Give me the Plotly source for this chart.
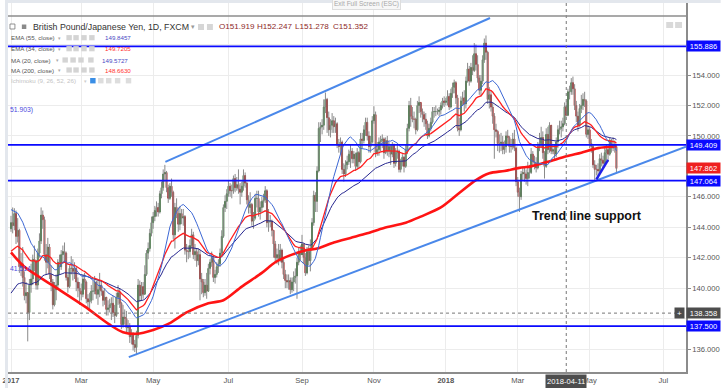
import pandas as pd
import plotly.graph_objects as go

# ------------------------------------------------------------------ data
FIRST_OPEN = 143.90
CLOSE = [
    # Jan 2017
    144.30, 144.10, 144.90, 143.40, 143.80, 141.40, 141.60, 140.70, 139.50, 139.70, 138.40, 140.20, 140.60, 141.90, 141.80, 140.20, 142.30, 143.10, 144.80, 144.50, 142.20, 141.70,
    # Feb 2017
    142.70, 140.90, 140.40, 138.90, 139.90, 140.20, 141.70, 141.40, 142.20, 142.40, 142.30, 140.70, 140.10, 141.30, 141.30, 141.10, 141.30, 140.40, 140.00, 139.80,
    # Mar 2017
    139.60, 140.60, 140.40, 139.30, 139.10, 139.20, 139.80, 139.80, 140.40, 139.60, 139.90, 140.20, 139.80, 139.20, 139.40, 138.60, 138.70, 138.90, 139.00, 138.40, 138.20, 139.40, 139.70,
    # Apr 2017
    139.00, 137.60, 138.10, 138.00, 137.40, 137.50, 136.80, 136.90, 136.30, 136.10, 136.90, 140.20, 139.50, 140.10, 139.60, 140.90, 142.30, 142.60, 143.60, 144.30,
    # May 2017
    144.70, 145.10, 145.30, 145.00, 146.20, 146.60, 147.50, 147.60, 146.60, 145.90, 146.70, 146.30, 143.50, 145.30, 144.90, 144.20, 144.90, 144.60, 144.70, 142.50, 142.40, 142.40, 142.80,
    # Jun 2017
    143.50, 142.20, 142.40, 141.80, 142.20, 140.60, 140.40, 139.70, 140.20, 139.80, 141.30, 141.70, 142.00, 140.70, 140.90, 141.40, 141.60, 142.30, 143.40, 145.30, 145.70, 146.20,
    # Jul 2017
    146.70, 146.40, 146.40, 147.20, 146.60, 146.80, 146.50, 146.30, 146.70, 147.40, 146.90, 145.80, 145.30, 145.50, 144.40, 144.60, 145.90, 145.90, 145.00, 145.30, 145.70,
    # Aug 2017
    145.80, 146.40, 144.30, 144.40, 144.40, 143.80, 142.90, 142.00, 142.20, 141.90, 142.50, 141.70, 140.90, 140.50, 140.40, 140.50, 139.90, 140.40, 140.70, 140.80, 141.70, 142.40, 142.20,
    # Sep 2017
    142.90, 142.00, 141.00, 142.40, 141.80, 142.60, 144.30, 146.10, 145.70, 147.70, 150.50, 150.60, 150.70, 151.90, 152.40, 151.20, 150.40, 150.70, 151.00, 150.60, 150.80,
    # Oct 2017
    149.40, 149.30, 149.60, 147.80, 147.50, 148.10, 148.30, 148.80, 149.00, 148.50, 148.80, 148.00, 148.90, 148.30, 149.80, 149.70, 150.40, 150.90, 150.00, 149.30, 149.60, 151.00,
    # Nov 2017
    151.40, 148.90, 149.10, 149.60, 149.70, 149.80, 148.90, 149.70, 149.00, 149.30, 148.80, 149.40, 148.20, 148.90, 149.00, 147.80, 148.30, 148.60, 148.00, 149.10, 150.50, 152.00,
    # Dec 2017
    151.30, 151.10, 151.10, 150.40, 152.00, 152.20, 151.60, 151.40, 151.10, 150.80, 150.00, 150.50, 150.90, 151.60, 151.60, 151.60, 151.60, 151.70, 152.00, 152.30, 152.20,
    # Jan 2018
    152.30, 152.60, 151.90, 152.80, 153.20, 153.50, 152.50, 150.50, 150.40, 152.30, 152.50, 152.10, 153.60, 154.40, 153.60, 154.50, 154.30, 155.40, 154.70, 153.80, 153.00, 153.60, 155.00,
    # Feb 2018
    156.10, 155.50, 152.40, 152.70, 151.90, 151.30, 150.40, 150.30, 149.50, 149.50, 149.60, 149.10, 149.30, 150.00, 149.90, 149.30, 149.30, 149.80, 149.20, 147.00,
    # Mar 2018
    146.30, 146.00, 147.50, 147.60, 147.50, 147.20, 147.60, 147.60, 148.80, 148.30, 148.20, 147.90, 149.30, 149.50, 149.90, 148.90, 148.00, 150.10, 149.10, 150.70, 149.00, 149.10,
    # Apr 2018
    148.80, 149.60, 150.40, 150.50, 150.60, 150.80, 151.919, 151.352, 152.90, 152.90, 153.50, 153.10, 152.00, 151.30, 150.70, 151.80, 152.00, 152.40, 152.30, 150.10, 150.40,
    # May 2018
    149.50, 149.30, 148.10, 147.80, 147.80, 147.70, 148.50, 148.40, 148.20, 148.90, 149.10, 148.80, 149.70, 149.20, 149.40, 149.30, 147.862,
]
HIGH = [
    144.75, 145.30, 145.25, 145.10, 144.60, 143.90, 142.30, 142.70, 141.10, 140.40, 139.60, 140.60, 141.60, 142.20, 142.80, 141.80, 142.60, 143.60, 145.30, 145.10, 144.70, 142.90,
    143.30, 142.90, 141.50, 140.60, 140.40, 140.90, 141.90, 142.20, 142.50, 142.80, 143.00, 142.40, 140.90, 141.50, 142.10, 141.90, 141.70, 141.40, 140.70, 140.40,
    140.30, 140.90, 141.00, 140.50, 139.60, 139.70, 140.20, 140.50, 140.80, 140.50, 140.60, 141.00, 140.50, 139.90, 140.00, 139.40, 139.20, 139.30, 139.40, 139.50, 138.90, 139.70, 140.20,
    140.00, 139.10, 138.90, 138.60, 138.50, 137.90, 137.70, 137.30, 137.10, 136.60, 137.20, 140.60, 140.50, 140.40, 140.40, 141.50, 142.50, 143.00, 143.90, 144.70,
    145.00, 145.40, 145.70, 145.60, 146.40, 147.00, 147.80, 148.10, 147.70, 146.80, 146.90, 147.20, 146.40, 145.60, 145.90, 145.30, 145.40, 145.20, 145.20, 144.80, 142.90, 142.80, 143.20,
    143.90, 143.70, 142.90, 142.60, 142.60, 142.50, 141.00, 140.60, 140.60, 141.00, 141.60, 141.90, 142.40, 142.10, 141.20, 141.70, 141.90, 142.60, 143.80, 145.50, 146.10, 146.50,
    147.10, 146.90, 146.80, 147.40, 147.50, 147.30, 147.80, 146.90, 147.00, 147.80, 147.60, 147.00, 146.10, 146.30, 145.60, 145.00, 146.20, 146.40, 146.40, 145.70, 146.00,
    146.20, 146.70, 146.50, 145.20, 144.80, 144.50, 143.80, 143.10, 142.60, 142.90, 142.90, 142.60, 141.90, 141.20, 140.90, 140.90, 140.70, 140.70, 141.10, 141.30, 142.00, 142.70, 142.80,
    143.50, 142.70, 142.30, 142.70, 142.80, 143.20, 144.60, 146.40, 146.30, 148.00, 150.90, 150.90, 151.10, 152.40, 152.85, 152.50, 151.60, 151.10, 151.50, 151.30, 151.20,
    150.90, 149.80, 149.90, 149.70, 148.20, 148.40, 148.70, 149.10, 149.40, 149.20, 149.00, 148.90, 149.20, 149.00, 150.20, 150.20, 150.70, 151.20, 151.20, 150.30, 150.00, 151.30,
    151.95, 151.60, 149.60, 149.90, 150.00, 150.10, 149.90, 149.90, 150.00, 149.60, 149.40, 149.60, 149.50, 149.20, 149.40, 149.10, 148.50, 148.80, 148.70, 149.40, 150.80, 152.30,
    152.50, 151.90, 151.60, 151.20, 152.30, 152.60, 152.20, 151.80, 151.60, 151.50, 151.00, 150.80, 151.20, 151.90, 151.90, 152.00, 151.80, 151.90, 152.20, 152.50, 152.60,
    152.50, 153.00, 152.80, 153.10, 153.50, 153.70, 153.60, 152.70, 151.20, 152.60, 152.90, 153.00, 153.90, 154.80, 154.60, 154.80, 155.30, 156.10, 156.00, 155.30, 154.00, 154.00, 155.30,
    156.40, 156.60, 155.60, 153.20, 153.00, 152.20, 151.50, 150.80, 150.40, 150.10, 150.20, 150.00, 149.70, 150.30, 150.40, 150.00, 149.80, 150.20, 150.40, 149.30,
    147.30, 146.60, 147.70, 148.00, 148.00, 147.80, 148.30, 148.10, 149.20, 149.00, 148.70, 148.60, 149.60, 150.20, 150.60, 150.30, 149.00, 150.50, 150.60, 150.90, 150.70, 149.40,
    149.40, 149.90, 150.70, 151.00, 151.00, 151.20, 152.20, 152.247, 153.10, 153.30, 153.80, 153.90, 153.40, 152.30, 151.60, 152.10, 152.70, 152.80, 152.90, 152.40, 150.70,
    150.60, 149.80, 149.40, 148.40, 148.10, 148.20, 148.80, 148.90, 148.70, 149.20, 149.40, 149.30, 149.90, 149.80, 149.90, 149.70, 149.40,
]
LOW = [
    143.70, 143.60, 143.80, 142.90, 143.00, 141.00, 140.80, 140.10, 139.20, 139.00, 136.50, 137.90, 139.70, 140.20, 141.10, 139.90, 139.90, 142.00, 142.90, 143.90, 141.80, 140.90,
    141.30, 140.60, 139.80, 138.60, 138.80, 139.20, 139.90, 140.90, 141.20, 141.60, 141.70, 140.50, 139.70, 140.00, 140.90, 140.50, 140.60, 139.80, 139.40, 138.90,
    139.20, 139.40, 139.90, 139.00, 138.70, 138.60, 139.00, 139.20, 139.60, 139.30, 138.90, 139.40, 139.50, 138.80, 138.90, 138.20, 138.20, 138.40, 137.90, 138.10, 137.70, 138.10, 138.90,
    138.70, 137.30, 137.40, 137.60, 137.00, 137.00, 136.40, 136.30, 135.90, 135.80, 135.60, 136.70, 139.10, 139.20, 139.30, 140.20, 140.80, 141.90, 142.40, 143.40,
    143.90, 144.40, 144.70, 144.70, 144.90, 145.90, 146.40, 147.00, 146.30, 145.60, 145.80, 146.00, 143.20, 142.60, 144.60, 143.70, 143.80, 144.20, 144.10, 142.20, 141.70, 141.90, 142.00,
    142.60, 141.90, 141.80, 141.40, 141.50, 139.20, 139.60, 139.40, 139.50, 139.30, 139.90, 140.90, 141.40, 140.40, 140.30, 140.70, 141.00, 141.40, 142.10, 143.30, 145.00, 145.20,
    146.00, 146.00, 145.90, 146.20, 146.30, 146.40, 146.20, 145.50, 146.00, 146.40, 146.60, 145.50, 144.90, 144.90, 144.10, 143.90, 144.50, 145.30, 144.70, 144.50, 145.00,
    145.30, 145.60, 144.00, 143.70, 144.00, 143.40, 142.00, 141.70, 141.60, 141.50, 141.70, 141.30, 140.60, 140.00, 140.00, 139.90, 139.60, 139.70, 139.80, 140.30, 139.30, 141.50, 141.80,
    142.20, 141.60, 140.80, 140.90, 141.50, 141.10, 142.80, 144.10, 145.00, 145.00, 147.60, 149.60, 150.10, 150.40, 151.50, 150.20, 150.00, 149.90, 150.20, 150.20, 150.20,
    149.20, 148.90, 148.80, 147.50, 147.00, 147.30, 147.80, 148.10, 147.90, 148.20, 148.20, 147.70, 147.80, 147.90, 148.20, 149.20, 149.50, 150.00, 149.70, 148.90, 148.90, 149.50,
    150.80, 148.60, 148.70, 148.70, 149.00, 149.20, 148.50, 148.80, 148.70, 148.60, 148.10, 148.60, 147.90, 148.00, 148.50, 147.60, 147.60, 148.00, 147.60, 147.90, 148.80, 150.30,
    150.60, 150.90, 150.50, 150.10, 150.30, 151.50, 151.20, 150.90, 150.60, 150.40, 149.80, 149.90, 150.30, 150.80, 151.20, 151.30, 151.40, 151.30, 151.40, 151.80, 151.90,
    152.00, 152.00, 151.70, 151.80, 152.50, 152.80, 152.10, 150.30, 150.00, 150.30, 152.00, 151.60, 151.80, 153.50, 153.30, 153.50, 154.00, 154.20, 154.30, 153.50, 152.70, 152.60, 153.40,
    154.80, 155.00, 152.10, 151.80, 151.60, 150.80, 148.50, 149.90, 149.00, 148.90, 149.00, 148.80, 148.80, 148.90, 149.40, 148.90, 148.90, 149.10, 149.00, 146.70,
    146.00, 145.00, 145.80, 147.10, 147.00, 146.80, 146.70, 147.20, 147.50, 148.00, 147.80, 147.60, 147.80, 149.00, 149.20, 148.50, 147.20, 147.90, 148.80, 148.90, 148.80, 148.80,
    148.40, 148.60, 149.20, 150.10, 149.90, 150.30, 150.70, 151.278, 151.30, 152.40, 152.70, 152.70, 151.70, 150.90, 150.30, 150.60, 151.50, 151.70, 151.90, 149.90, 149.80,
    149.20, 148.90, 147.90, 147.10, 147.40, 147.20, 147.50, 148.00, 147.90, 148.10, 148.40, 148.30, 148.70, 148.90, 149.00, 148.90, 147.60,
]

# 200-day MA (thick red line)
MA200_DATES = ["2017-01-02", "2017-01-12", "2017-02-07", "2017-03-03", "2017-03-24", "2017-04-05", "2017-04-17",
               "2017-05-01", "2017-05-15", "2017-05-29", "2017-06-15", "2017-06-28", "2017-07-13", "2017-07-31",
               "2017-08-10", "2017-08-24", "2017-09-06", "2017-09-14", "2017-09-28", "2017-10-12", "2017-10-26",
               "2017-11-09", "2017-11-28", "2017-12-11", "2017-12-27", "2018-01-11", "2018-01-25", "2018-02-06",
               "2018-02-19", "2018-03-02", "2018-03-13", "2018-03-27", "2018-04-11", "2018-04-24", "2018-05-08",
               "2018-05-23"]
MA200_VALUES = [142.35, 141.4, 140.1, 138.8, 137.6, 137.1, 137.0, 137.25, 137.7, 138.4, 139.0, 139.2, 140.1,
                141.0, 141.7, 142.2, 142.5, 142.6, 143.0, 143.3, 143.6, 143.95, 144.3, 144.7, 145.3, 146.25,
                147.1, 147.55, 147.7, 147.9, 148.0, 148.3, 148.663, 148.9, 149.2, 149.3]

# indicator starting values (values at first bar)
EMA55_SEED, EMA34_SEED, MA20_SEED = 139.5, 142.3, 145.2

# drawings
LEVELS = [155.886, 149.409, 147.064, 137.500]
LAST_PRICE = 147.862
CROSS_DATE, CROSS_PRICE = "2018-04-11", 138.358
TREND_UP_X, TREND_UP_Y = ["2017-05-10 07:00", "2018-02-06 10:00"], [148.29, 157.75]
TREND_LOW_X, TREND_LOW_Y = ["2017-04-10 10:00", "2018-07-19 14:24"], [135.47, 149.30]
SHORT_X, SHORT_Y = ["2018-05-07", "2018-05-16"], [147.15, 148.42]

TICK_DATES = ["2017-01-02", "2017-03-01", "2017-05-01", "2017-07-03", "2017-09-01", "2017-11-01",
              "2018-01-01", "2018-03-01", "2018-05-01", "2018-07-02"]
TICK_TEXT = ["<b>2017</b>", "Mar", "May", "Jul", "Sep", "Nov", "<b>2018</b>", "Mar", "May", "Jul"]
Y_TICKS = [136, 140, 142, 144, 146, 150, 152, 154]       # labelled price ticks
Y_HIDDEN_GRID = [138, 148, 156]                           # grid rows whose labels sit under price boxes

# ------------------------------------------------------------------ build
dates = pd.bdate_range("2017-01-02", "2018-05-23")
if not (len(dates) == len(CLOSE) == len(HIGH) == len(LOW)):
    raise SystemExit(f"length mismatch {len(dates)} {len(CLOSE)} {len(HIGH)} {len(LOW)}")

OPEN = [FIRST_OPEN] + CLOSE[:-1]
hi = [max(h, o, c) for h, o, c in zip(HIGH, OPEN, CLOSE)]
lo = [min(l, o, c) for l, o, c in zip(LOW, OPEN, CLOSE)]
body_hi = [max(o, c) for o, c in zip(OPEN, CLOSE)]
body_lo = [min(o, c) for o, c in zip(OPEN, CLOSE)]


def ema(vals, n, seed):
    a, e, out = 2.0 / (n + 1), seed, []
    for v in vals:
        e = a * v + (1 - a) * e
        out.append(e)
    return out


def sma(vals, n, seed):
    out = []
    for i in range(len(vals)):
        win = vals[max(0, i - n + 1): i + 1]
        pad = n - len(win)
        out.append((sum(win) + pad * seed) / n)
    return out


ema55 = ema(CLOSE, 55, EMA55_SEED)
ema34 = ema(CLOSE, 34, EMA34_SEED)
ma20 = sma(CLOSE, 20, MA20_SEED)

FONT = "Liberation Sans, Arial, sans-serif"
W, H = 723, 388
ML, MR, MT, MB = 3, 35, 3, 16
PW, PH = W - ML - MR, H - MT - MB


def px(x):
    return (x - ML) / PW


def py(y):
    return 1 - (y - MT) / PH


def price_at(y):
    return 136 + (349 - y) / 15.22


UP_F, UP_L = "#2a7a2a", "#2c6e2c"
DN_F, DN_L = "#c41616", "#aa1414"
WICK = "#8a8a8a"
MA20_C, EMA55_C, EMA34_C, MA200_C = "#3c67d4", "#26268f", "#ff2020", "#ff1414"
TREND_C, LEVEL_C = "#4a88ea", "#0a0aff"

fig = go.Figure()

wx, wy = [], []
for d, l, h in zip(dates, lo, hi):
    wx += [d, d, None]
    wy += [l, h, None]
fig.add_trace(go.Scatter(x=wx, y=wy, mode="lines", line=dict(color=WICK, width=1),
                         hoverinfo="skip", showlegend=False))
fig.add_trace(go.Candlestick(x=dates, open=OPEN, high=body_hi, low=body_lo, close=CLOSE,
                             increasing=dict(line=dict(color=UP_L, width=1), fillcolor=UP_F),
                             decreasing=dict(line=dict(color=DN_L, width=1), fillcolor=DN_F),
                             whiskerwidth=0, showlegend=False))
fig.add_trace(go.Scatter(x=MA200_DATES, y=MA200_VALUES, mode="lines",
                         line=dict(color=MA200_C, width=2.6, shape="spline", smoothing=0.8), showlegend=False))
fig.add_trace(go.Scatter(x=dates, y=ema55, mode="lines", line=dict(color=EMA55_C, width=1), showlegend=False))
fig.add_trace(go.Scatter(x=dates, y=ema34, mode="lines", line=dict(color=EMA34_C, width=1.3), showlegend=False))
fig.add_trace(go.Scatter(x=dates, y=ma20, mode="lines", line=dict(color=MA20_C, width=1), showlegend=False))
fig.add_trace(go.Scatter(x=TREND_UP_X, y=TREND_UP_Y, mode="lines", line=dict(color=TREND_C, width=2), showlegend=False))
fig.add_trace(go.Scatter(x=TREND_LOW_X, y=TREND_LOW_Y, mode="lines", line=dict(color=TREND_C, width=2), showlegend=False))
fig.add_trace(go.Scatter(x=SHORT_X, y=SHORT_Y, mode="lines", line=dict(color="#1f1fe8", width=2.5), showlegend=False))

shapes = []
for g in Y_HIDDEN_GRID:
    shapes.append(dict(type="line", xref="paper", yref="y", x0=0, x1=1, y0=g, y1=g,
                       line=dict(color="#ececec", width=1), layer="below"))
for lv in LEVELS:
    shapes.append(dict(type="line", xref="paper", yref="y", x0=0, x1=1, y0=lv, y1=lv,
                       line=dict(color=LEVEL_C, width=1.6), layer="above"))
shapes.append(dict(type="line", xref="x", yref="paper", x0=CROSS_DATE, x1=CROSS_DATE, y0=0, y1=1,
                   line=dict(color="#777777", width=1, dash="3px,3px"), layer="above"))
shapes.append(dict(type="line", xref="paper", yref="y", x0=0, x1=1, y0=CROSS_PRICE, y1=CROSS_PRICE,
                   line=dict(color="#777777", width=1, dash="3px,3px"), layer="above"))
# chrome
shapes.append(dict(type="line", xref="paper", yref="paper", x0=0, x1=1, y0=py(16), y1=py(16),
                   line=dict(color="#8c8c8c", width=1.6), layer="above"))


def rect(x0, y0, x1, y1, fill, lw=0, lc=None):
    return dict(type="rect", xref="paper", yref="paper", x0=px(x0), x1=px(x1), y0=py(y1), y1=py(y0),
                fillcolor=fill, line=dict(width=lw, color=lc or fill), layer="above")


shapes.append(rect(0, 0, 723, 3, "#e3e7ed"))
shapes.append(rect(0, 0, 3, 388, "#e3e7ed"))
# legend icons
shapes.append(rect(5, 24, 10, 29, "white", 0.8, "#777777"))
shapes.append(rect(17, 24.5, 21.5, 29, "#8a8a8a"))
shapes.append(rect(195, 24, 201, 30, "#d6d6d6"))
shapes.append(rect(204, 24, 210, 30, "#d6d6d6"))
for yy, xs in [(37.7, [62, 69, 77, 85]), (48.7, [62, 69, 77, 85]), (60, [58, 66, 74, 84]), (70, [62, 69, 77, 85])]:
    for xx in xs:
        shapes.append(rect(xx, yy - 2.6, xx + 5.5, yy + 2.6, "#d4d4d4"))
shapes.append(rect(86, 78, 91.5, 83.4, "#3a8ee6"))
for xx in [94, 102, 111, 122]:
    shapes.append(rect(xx, 78, xx + 5.5, 83.4, "#dddddd"))
shapes.append(rect(668, 22, 675, 28, "#d9d9d9"))
shapes.append(rect(677, 22, 684, 28, "#d9d9d9"))

ann = []


def txt(x, y, text, size, color, anchor="left", **kw):
    d = dict(x=px(x), y=py(y), xref="paper", yref="paper", text=text, showarrow=False,
             xanchor=anchor, yanchor="middle", font=dict(family=FONT, size=size, color=color))
    d.update(kw)
    ann.append(d)


txt(26, 26.7, "British Pound/Japanese Yen, 1D, FXCM", 8.8, "#333333")
txt(186, 26.7, "▾", 7, "#999999")
OHLC_C = "#8e2a2a"
for x, t in [(214, "O151.919"), (253, "H152.247"), (291, "L151.278"), (329, "C151.352")]:
    txt(x, 26.7, t, 8.1, OHLC_C)
legend_rows = [
    (37.7, "EMA (55, close)", 52, 99, "149.8457", "#4a4ac4"),
    (48.7, "EMA (34, close)", 52, 99, "149.7205", "#ff3030"),
    (60.0, "MA (20, close)", 49, 96, "149.5727", "#4a4ac4"),
    (70.0, "MA (200, close)", 52, 99, "148.6630", "#ff3030"),
]
for yy, name, ax, vx, val, vc in legend_rows:
    txt(4, yy, name, 6.2, "#555555")
    txt(ax, yy, "▾", 5, "#aaaaaa")
    txt(vx, yy, val, 6.2, vc)
txt(4, 80.7, "Ichimoku (9, 26, 52, 26)", 6.2, "#c4c4c4")
txt(78, 80.7, "▾", 5, "#cccccc")
txt(365, 4.5, "Exit Full Screen (ESC)", 6.5, "#a8a8a8", anchor="center",
    bgcolor="#f7f7f7", bordercolor="#dddddd", borderwidth=1, borderpad=1)
txt(3, 110.5, "51.903)", 6.8, "#4a4ae0")
txt(3, 268.5, "41.514", 6.8, "#4a4ae0")
txt(588, 216, "<b>Trend line support</b>", 12.5, "#111111", anchor="center")


def price_box(v, bg):
    ann.append(dict(x=1, xref="paper", xanchor="left", y=v, yref="y", yanchor="middle",
                    text=f"{v:.3f}", showarrow=False, bgcolor=bg, borderpad=0, width=33, height=10,
                    font=dict(family=FONT, size=7.6, color="white")))


for lv in LEVELS:
    price_box(lv, "#0a0aff")
price_box(LAST_PRICE, "#ee2020")
price_box(CROSS_PRICE, "#4d4d4d")
ann.append(dict(x=1, xref="paper", xanchor="right", y=CROSS_PRICE, yref="y", yanchor="middle",
                text="+", showarrow=False, bgcolor="#4d4d4d", borderpad=0, width=9, height=10, xshift=-1,
                font=dict(family=FONT, size=8, color="white")))
ann.append(dict(x=CROSS_DATE, xref="x", y=0, yref="paper", yanchor="top", xanchor="center", yshift=-2,
                text=CROSS_DATE, showarrow=False, bgcolor="#4d4d4d", borderpad=1, height=11,
                font=dict(family=FONT, size=7.6, color="white")))

fig.update_layout(
    width=W, height=H, margin=dict(l=ML, r=MR, t=MT, b=MB),
    paper_bgcolor="white", plot_bgcolor="white", showlegend=False,
    shapes=shapes, annotations=ann, hovermode=False,
    font=dict(family=FONT),
    xaxis=dict(type="date", range=["2016-12-29 04:48", "2018-07-19 14:24"],
               rangebreaks=[dict(bounds=["sat", "mon"])],
               tickmode="array", tickvals=TICK_DATES, ticktext=TICK_TEXT, ticklabeloverflow="allow",
               showgrid=True, gridcolor="#ececec", gridwidth=1, zeroline=False,
               showline=True, linecolor="#8c8c8c", linewidth=1.5, ticks="",
               tickfont=dict(family=FONT, size=7.6, color="#555555"),
               rangeslider=dict(visible=False), fixedrange=True),
    yaxis=dict(side="right", range=[price_at(372), price_at(3)], tickmode="array", tickvals=Y_TICKS,
               tickformat=".3f", showgrid=True, gridcolor="#ececec", zeroline=False,
               showline=True, linecolor="#8c8c8c", linewidth=1.5, ticks="outside", ticklen=3,
               tickcolor="#8c8c8c", tickfont=dict(family=FONT, size=7.6, color="#555555"),
               fixedrange=True),
)

fig.write_html("out.html", config={"displayModeBar": False},
               post_script="document.body.style.margin='0';document.body.style.overflow='hidden';")
